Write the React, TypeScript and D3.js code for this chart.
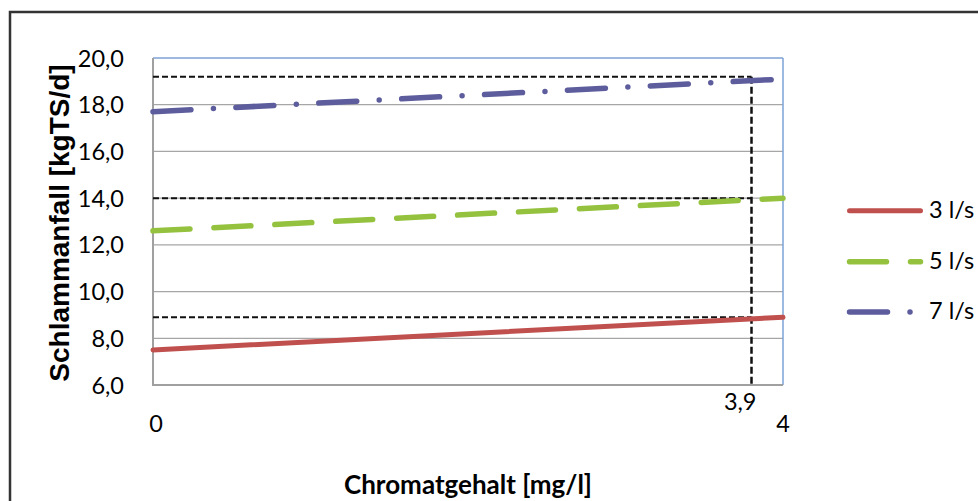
import React from "react";
import * as d3 from "d3";

// ---- data ----
const xDomain = [0, 4];
const yDomain = [6, 20];
const yTicks = [6, 8, 10, 12, 14, 16, 18, 20];
const seriesNames = ["3 l/s", "5 l/s", "7 l/s"];
const xValues = [0, 4];
const series3 = [7.5, 8.9];
const series5 = [12.6, 14.0];
const series7 = [17.7, 19.1];
const refYValues = [8.9, 14.0, 19.2];
const refXValue = 3.8;
const refXLabel = "3,9";
const xTickLabels = ["0", "4"];
const xTickValues = [0, 4];

const W = 978;
const H = 501;

export default function App() {
  const x = d3.scaleLinear().domain(xDomain).range([153, 783]);
  const y = d3.scaleLinear().domain(yDomain).range([385, 58]);
  const fmt = (v: number) => v.toFixed(1).replace(".", ",");
  const line = d3
    .line<number>()
    .x((_, i) => x(xValues[i]))
    .y((d) => y(d));

  const seriesData = [series3, series5, series7];
  const colors = ["#C0504D", "#94C23F", "#5D5D9D"];
  const dashes = [undefined, "37 24", "38 22.5 0 22.5"];
  const widths = [5, 5.5, 5.5];
  const legendY = [210.7, 261.7, 312];
  const tickFont = "Lato, 'Open Sans', sans-serif";
  const tickSize = 23.5;

  return (
    <svg
      width={W}
      height={H}
      style={{ position: "absolute", left: 0, top: 0, background: "#fff" }}
    >
      <rect x={0} y={0} width={W} height={H} fill="#fff" />
      {/* outer frame */}
      <rect x={10} y={12} width={W + 20} height={H + 20} fill="none" stroke="#333" strokeWidth={2.5} />

      {/* gridlines */}
      {yTicks.slice(1, -1).map((t) => (
        <line key={t} x1={x(0)} x2={x(4)} y1={y(t)} y2={y(t)} stroke="#A6A6A6" strokeWidth={1.3} />
      ))}
      {/* plot border top & right */}
      <line x1={x(0)} x2={x(4)} y1={y(20)} y2={y(20)} stroke="#7DA2D6" strokeWidth={1.5} />
      <line x1={x(4)} x2={x(4)} y1={y(20)} y2={y(6)} stroke="#7DA2D6" strokeWidth={1.5} />
      {/* axes */}
      <line x1={x(0)} x2={x(0)} y1={y(20)} y2={y(6)} stroke="#A0A0A0" strokeWidth={2} />
      <line x1={x(0) - 1} x2={x(4)} y1={y(6)} y2={y(6)} stroke="#A0A0A0" strokeWidth={2} />

      {/* reference lines */}
      {refYValues.map((v) => (
        <line
          key={v}
          x1={x(0)}
          x2={x(refXValue)}
          y1={y(v)}
          y2={y(v)}
          stroke="#111"
          strokeWidth={2}
          strokeDasharray="6 3"
        />
      ))}
      <line
        x1={x(refXValue)}
        x2={x(refXValue)}
        y1={y(d3.max(refYValues) as number)}
        y2={y(6)}
        stroke="#111"
        strokeWidth={2.5}
        strokeDasharray="7 3"
      />

      {/* series */}
      {seriesData.map((s, i) => (
        <path
          key={i}
          d={line(s) as string}
          fill="none"
          stroke={colors[i]}
          strokeWidth={widths[i]}
          strokeDasharray={dashes[i]}
          strokeLinecap="round"
        />
      ))}

      {/* y tick labels */}
      {yTicks.map((t) => (
        <text
          key={t}
          x={124}
          y={y(t) + 8.5}
          textAnchor="end"
          fontFamily={tickFont}
          fontSize={tickSize}
          fill="#000"
        >
          {fmt(t)}
        </text>
      ))}

      {/* x tick labels */}
      {xTickValues.map((v, i) => (
        <text
          key={v}
          x={x(v) + (i === 0 ? 3 : 0)}
          y={432}
          textAnchor="middle"
          fontFamily={tickFont}
          fontSize={tickSize}
          fill="#000"
        >
          {xTickLabels[i]}
        </text>
      ))}
      <text x={x(refXValue) + 5} y={410} textAnchor="end" fontFamily={tickFont} fontSize={tickSize} fill="#000">
        {refXLabel}
      </text>

      {/* axis titles */}
      <text
        transform={`translate(68.5, 223) rotate(-90)`}
        textAnchor="middle"
        fontFamily="'Liberation Sans', Arial, sans-serif"
        fontWeight="bold"
        fontSize={28}
        fill="#000"
      >
        Schlammanfall [kgTS/d]
      </text>
      <text
        x={468}
        y={494}
        textAnchor="middle"
        fontFamily={tickFont}
        fontWeight="bold"
        fontSize={26}
        fill="#000"
      >
        Chromatgehalt [mg/l]
      </text>

      {/* legend */}
      {seriesNames.map((n, i) => (
        <g key={n}>
          <line
            x1={849.5}
            x2={i === 2 ? 911 : 920.5}
            y1={legendY[i]}
            y2={legendY[i]}
            stroke={colors[i]}
            strokeWidth={widths[i]}
            strokeDasharray={dashes[i]}
            strokeLinecap="round"
          />
          <text x={929} y={legendY[i] + 7} fontFamily={tickFont} fontSize={tickSize} fill="#000">
            {n}
          </text>
        </g>
      ))}
    </svg>
  );
}
